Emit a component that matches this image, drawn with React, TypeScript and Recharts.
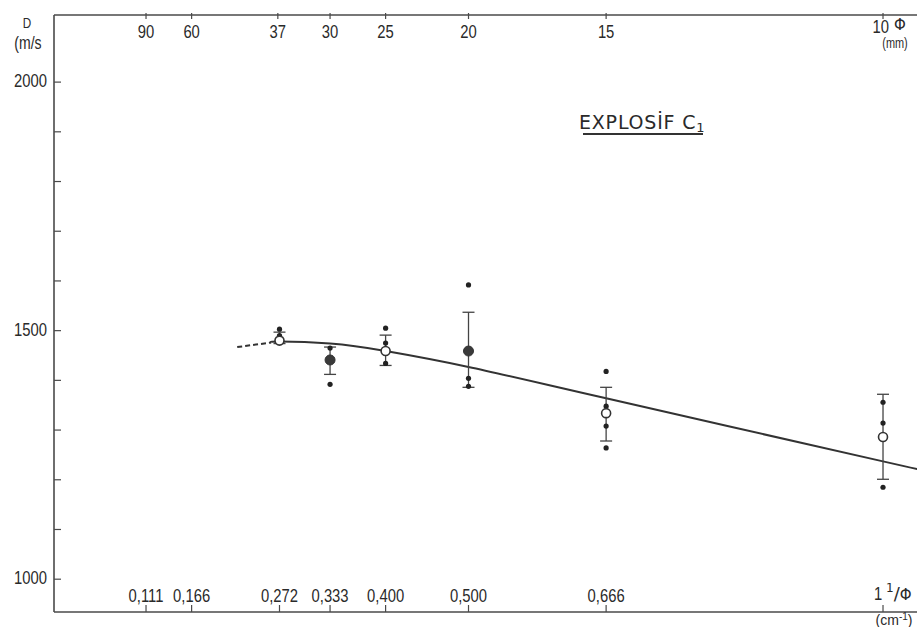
import React from 'react';
import { ComposedChart, Line, Scatter, XAxis, YAxis, ErrorBar } from 'recharts';

const FONT = "'Liberation Sans', Arial, sans-serif";
const TITLE_FONT = "'DejaVu Sans', 'Liberation Sans', sans-serif";
const INK = '#2a2a2a';
const AXIS = '#4a4a4a';
const SQUEEZE = 0.78;

// bottom axis : 1/phi (cm-1)
const bottomTicks = [0.111, 0.166, 0.272, 0.333, 0.4, 0.5, 0.666, 1];
const bottomTickLabels = ['0,111', '0,166', '0,272', '0,333', '0,400', '0,500', '0,666', '1'];
// top axis : phi (mm)
const topTicks = [0.111, 0.166, 0.27, 0.333, 0.4, 0.5, 0.666, 1];
const topTickLabels = ['90', '60', '37', '30', '25', '20', '15', '10'];
// left axis : D (m/s)
const yTicks = [1000, 1100, 1200, 1300, 1400, 1500, 1600, 1700, 1800, 1900, 2000];
const yLabelTicks = [1000, 1500, 2000];

// fitted curve
const curveDashedX = [0.221, 0.262];
const curveDashedY = [1467, 1476];
const curveSolidX = [0.262, 0.272, 0.333, 0.4, 0.5, 0.666, 1, 1.041];
const curveSolidY = [1476, 1478, 1474, 1459, 1427, 1364, 1237, 1222];

// dispersion bars
const groupX = [0.272, 0.333, 0.4, 0.5, 0.666, 1];
const errLow = [1474, 1412, 1430, 1386, 1278, 1201];
const errHigh = [1497, 1467, 1491, 1537, 1386, 1372];

// mean values
const openMeanX = [0.272, 0.4, 0.666, 1];
const openMeanY = [1480, 1459, 1334, 1286];
const filledMeanX = [0.333, 0.5];
const filledMeanY = [1441, 1459];

// individual shots
const dotX = [0.272, 0.272, 0.333, 0.333, 0.4, 0.4, 0.4, 0.5, 0.5, 0.5, 0.666, 0.666, 0.666, 0.666, 1, 1, 1];
const dotY = [1503, 1490, 1465, 1392, 1505, 1475, 1434, 1592, 1404, 1388, 1418, 1348, 1308, 1264, 1356, 1314, 1185];

const zip = (xs: number[], ys: number[]) => xs.map((x, i) => ({ x, y: ys[i] }));
const dashedData = zip(curveDashedX, curveDashedY);
const solidData = zip(curveSolidX, curveSolidY);
const errData = groupX.map((x, i) => ({ x, y: (errLow[i] + errHigh[i]) / 2, err: (errHigh[i] - errLow[i]) / 2 }));
const openData = zip(openMeanX, openMeanY);
const filledData = zip(filledMeanX, filledMeanY);
const dotData = zip(dotX, dotY);

const NText = ({ x, y, anchor = 'middle', size = 19, children }: any) => (
  <text
    transform={`translate(${x},${y}) scale(${SQUEEZE},1)`}
    textAnchor={anchor}
    fontFamily={FONT}
    fontSize={size}
    fill={INK}
  >
    {children}
  </text>
);

const BottomTick = (props: any) => {
  const { x, y, payload } = props;
  const i = bottomTicks.indexOf(payload.value);
  const label = bottomTickLabels[i];
  return (
    <g>
      <line x1={x} x2={x} y1={y} y2={y - 7} stroke={AXIS} strokeWidth={1.2} />
      {label === '1' ? (
        <NText x={x - 5} y={y - 12}>1</NText>
      ) : (
        <NText x={x} y={y - 10}>{label}</NText>
      )}
    </g>
  );
};

const TopTick = (props: any) => {
  const { x, y, payload } = props;
  const i = topTicks.indexOf(payload.value);
  const label = topTickLabels[i];
  return (
    <g>
      <line x1={x} x2={x} y1={y - 2} y2={y + 4} stroke={AXIS} strokeWidth={1.2} />
      {label === '10' ? (
        <NText x={x + 6} y={y + 18} anchor="end">{label}</NText>
      ) : (
        <NText x={x} y={y + 23}>{label}</NText>
      )}
    </g>
  );
};

const LeftTick = (props: any) => {
  const { x, y, payload } = props;
  const show = yLabelTicks.includes(payload.value);
  return (
    <g>
      <line x1={x} x2={x + 7} y1={y} y2={y} stroke={AXIS} strokeWidth={1.2} />
      {show && (
        <NText x={x - 7} y={y + 5} anchor="end">{payload.value}</NText>
      )}
    </g>
  );
};

const OpenDot = (props: any) => (
  <circle cx={props.cx} cy={props.cy} r={4.5} fill="#fff" stroke="#333" strokeWidth={1.6} />
);
const BigDot = (props: any) => (
  <circle cx={props.cx} cy={props.cy} r={5} fill="#3a3a3a" stroke="#333" strokeWidth={1} />
);
const SmallDot = (props: any) => (
  <circle cx={props.cx} cy={props.cy} r={2.6} fill="#222" />
);
const NoDot = () => <g />;

export default function App() {
  return (
    <div style={{ position: 'absolute', left: 0, top: 0, width: 917, height: 627, background: '#fff' }}>
      <ComposedChart width={917} height={627} margin={{ top: 14, right: 0, bottom: 14, left: 0 }}>
        <XAxis
          xAxisId="b"
          type="number"
          dataKey="x"
          orientation="bottom"
          domain={[0, 1.041]}
          ticks={bottomTicks}
          interval={0}
          height={1}
          tickSize={0}
          tickMargin={0}
          tickLine={false}
          axisLine={{ stroke: AXIS, strokeWidth: 1.6 }}
          tick={<BottomTick />}
          allowDataOverflow
        />
        <XAxis
          xAxisId="t"
          type="number"
          dataKey="x"
          orientation="top"
          domain={[0, 1.041]}
          ticks={topTicks}
          interval={0}
          height={1}
          tickSize={0}
          tickMargin={0}
          tickLine={false}
          axisLine={{ stroke: AXIS, strokeWidth: 1.6 }}
          tick={<TopTick />}
          allowDataOverflow
        />
        <YAxis
          type="number"
          dataKey="y"
          domain={[934, 2135]}
          ticks={yTicks}
          interval={0}
          width={54}
          tickSize={0}
          tickMargin={0}
          tickLine={false}
          axisLine={{ stroke: AXIS, strokeWidth: 1.6 }}
          tick={<LeftTick />}
          allowDataOverflow
        />
        <Line xAxisId="b" data={dashedData} dataKey="y" type="monotone" stroke="#333" strokeWidth={2} strokeDasharray="5 3" dot={false} isAnimationActive={false} />
        <Line xAxisId="b" data={solidData} dataKey="y" type="natural" stroke="#333" strokeWidth={2} dot={false} isAnimationActive={false} />
        <Scatter xAxisId="b" data={errData} dataKey="y" shape={<NoDot />} isAnimationActive={false}>
          <ErrorBar dataKey="err" direction="y" width={6} stroke="#444" strokeWidth={1.3} />
        </Scatter>
        <Scatter xAxisId="b" data={dotData} dataKey="y" shape={<SmallDot />} isAnimationActive={false} />
        <Scatter xAxisId="b" data={filledData} dataKey="y" shape={<BigDot />} isAnimationActive={false} />
        <Scatter xAxisId="b" data={openData} dataKey="y" shape={<OpenDot />} isAnimationActive={false} />
      </ComposedChart>
      <svg width={917} height={627} style={{ position: 'absolute', left: 0, top: 0, pointerEvents: 'none' }}>
        <NText x={27} y={28} size={15}>D</NText>
        <NText x={28} y={49} size={18}>(m/s</NText>
        <text x={900} y={30} textAnchor="middle" fontFamily={TITLE_FONT} fontSize={15} fill={INK}>Φ</text>
        <NText x={895} y={48} size={14}>(mm)</NText>
        <text x={886} y={600} fontFamily={TITLE_FONT} fill={INK}>
          <tspan fontSize={12} dy={-8}>1</tspan>
          <tspan fontSize={18} dy={8}>/</tspan>
          <tspan fontSize={15}>Φ</tspan>
        </text>
        <text x={894} y={625} textAnchor="middle" fontFamily={FONT} fontSize={14} fill={INK}>
          (cm<tspan fontSize={10} dy={-5}>-1</tspan><tspan dy={5}>)</tspan>
        </text>
        <text x={579} y={129} fontFamily={TITLE_FONT} fontSize={19} fill={INK} letterSpacing={0.8}>
          EXPLOSİF C<tspan fontSize={13} dy={3}>1</tspan>
        </text>
        <line x1={583} x2={703} y1={134} y2={134} stroke="#333" strokeWidth={2} />
      </svg>
    </div>
  );
}
